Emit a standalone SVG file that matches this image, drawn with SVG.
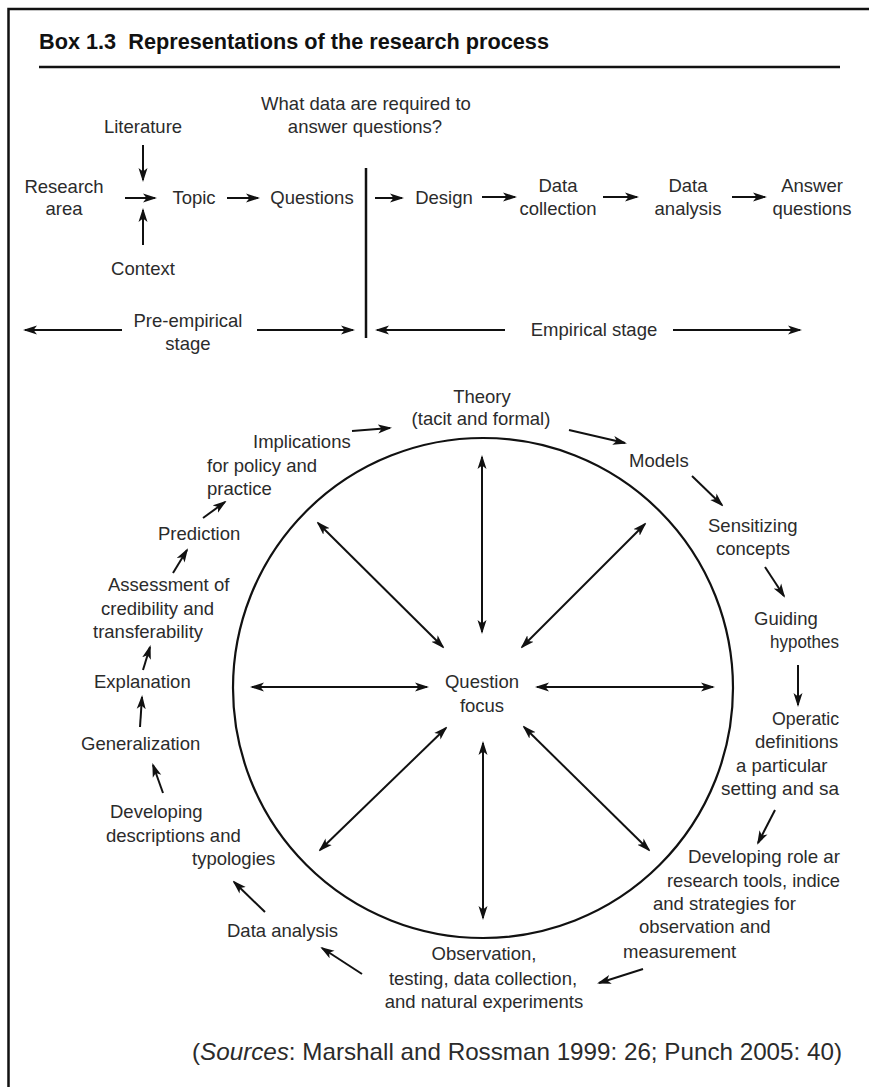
<svg xmlns="http://www.w3.org/2000/svg" width="869" height="1087" viewBox="0 0 869 1087">
<style>
  text { font-family: "Liberation Sans", Arial, sans-serif; font-size: 18.5px; fill: #2b2b2b; }
  .m { text-anchor: middle; }
  .title { font-weight: bold; font-size: 21.5px; fill: #111; }
  .src { font-size: 24px; }
  .ln { stroke: #111; stroke-width: 2; fill: none; }
  .a1 { marker-end: url(#ah); }
  .a2 { marker-start: url(#ah); marker-end: url(#ah); }
  .frame { stroke: #111; stroke-width: 2.5; fill: none; }
</style>
<defs>
  <marker id="ah" viewBox="0 0 14 10" refX="12" refY="5" markerWidth="14" markerHeight="10" markerUnits="userSpaceOnUse" orient="auto-start-reverse">
    <path d="M0,0.5 L14,5 L0,9.5 L3.5,5 z" fill="#111"/>
  </marker>
</defs>
<rect width="869" height="1087" fill="#fff"/>

<g id="frame">
  <path class="frame" d="M8.5,1087 V9 H869"/>
  <line x1="39" y1="67" x2="840" y2="67" stroke="#111" stroke-width="2.5"/>
  <text class="title" x="39" y="49" xml:space="preserve" textLength="510" lengthAdjust="spacingAndGlyphs">Box 1.3  Representations of the research process</text>
</g>

<g id="connectors">
  <!-- top flow -->
  <line class="ln a1" x1="143" y1="145" x2="143" y2="180"/>
  <line class="ln a1" x1="125" y1="198" x2="155" y2="198"/>
  <line class="ln a1" x1="143" y1="245" x2="143" y2="210"/>
  <line class="ln a1" x1="227" y1="198" x2="258" y2="198"/>
  <line class="ln a1" x1="375" y1="198" x2="402" y2="198"/>
  <line class="ln a1" x1="482" y1="197" x2="515" y2="197"/>
  <line class="ln a1" x1="603" y1="197" x2="637" y2="197"/>
  <line class="ln a1" x1="732" y1="197" x2="765" y2="197"/>
  <line x1="366" y1="168" x2="366" y2="338" stroke="#111" stroke-width="2.5"/>
  <line class="ln a1" x1="122" y1="330" x2="25" y2="330"/>
  <line class="ln a1" x1="257" y1="330" x2="353" y2="330"/>
  <line class="ln a1" x1="505" y1="330" x2="377" y2="330"/>
  <line class="ln a1" x1="673" y1="330" x2="800" y2="330"/>
  <!-- circle -->
  <circle cx="483" cy="688" r="250" fill="none" stroke="#111" stroke-width="2.2"/>
  <!-- spokes -->
  <line class="ln a2" x1="482" y1="632" x2="482" y2="457"/>
  <line class="ln a2" x1="483" y1="743" x2="483" y2="918"/>
  <line class="ln a2" x1="427" y1="687" x2="252" y2="687"/>
  <line class="ln a2" x1="537" y1="687" x2="713" y2="687"/>
  <line class="ln a2" x1="443" y1="647" x2="318" y2="523"/>
  <line class="ln a2" x1="522" y1="647" x2="645" y2="524"/>
  <line class="ln a2" x1="446" y1="728" x2="320" y2="850"/>
  <line class="ln a2" x1="524" y1="727" x2="649" y2="850"/>
  <!-- cycle -->
  <line class="ln a1" x1="352" y1="431" x2="390" y2="428"/>
  <line class="ln a1" x1="569" y1="430" x2="625" y2="443"/>
  <line class="ln a1" x1="692" y1="476" x2="722" y2="505"/>
  <line class="ln a1" x1="765" y1="567" x2="784" y2="596"/>
  <line class="ln a1" x1="798" y1="665" x2="798" y2="705"/>
  <line class="ln a1" x1="775" y1="810" x2="758" y2="843"/>
  <line class="ln a1" x1="643" y1="969" x2="599" y2="983"/>
  <line class="ln a1" x1="362" y1="974" x2="322" y2="948"/>
  <line class="ln a1" x1="265" y1="912" x2="234" y2="882"/>
  <line class="ln a1" x1="163" y1="793" x2="153" y2="765"/>
  <line class="ln a1" x1="140" y1="727" x2="142" y2="697"/>
  <line class="ln a1" x1="143" y1="670" x2="150" y2="647"/>
  <line class="ln a1" x1="173" y1="573" x2="187" y2="550"/>
  <line class="ln a1" x1="203" y1="518" x2="225" y2="502"/>
</g>

<!-- top flow nodes -->
<g id="what-data"><text class="m" x="366" y="110">What data are required to</text><text class="m" x="365" y="133">answer questions?</text></g>
<g id="literature"><text class="m" x="143" y="133">Literature</text></g>
<g id="research-area"><text class="m" x="64" y="193">Research</text><text class="m" x="64" y="215">area</text></g>
<g id="context"><text class="m" x="143" y="275">Context</text></g>
<g id="topic"><text class="m" x="194" y="204">Topic</text></g>
<g id="questions"><text class="m" x="312" y="204">Questions</text></g>
<g id="design"><text class="m" x="444" y="204">Design</text></g>
<g id="data-collection"><text class="m" x="558" y="192">Data</text><text class="m" x="558" y="215">collection</text></g>
<g id="data-analysis-top"><text class="m" x="688" y="192">Data</text><text class="m" x="688" y="215">analysis</text></g>
<g id="answer-questions"><text class="m" x="812" y="192">Answer</text><text class="m" x="812" y="215">questions</text></g>
<g id="pre-empirical"><text class="m" x="188" y="327">Pre-empirical</text><text class="m" x="188" y="350">stage</text></g>
<g id="empirical"><text class="m" x="594" y="336">Empirical stage</text></g>

<!-- circle nodes -->
<g id="question-focus"><text class="m" x="482" y="688">Question</text><text class="m" x="482" y="712">focus</text></g>
<g id="theory"><text class="m" x="482" y="403">Theory</text><text class="m" x="481" y="425">(tacit and formal)</text></g>
<g id="models"><text x="629" y="467">Models</text></g>
<g id="sensitizing"><text x="708" y="532">Sensitizing</text><text x="716" y="555">concepts</text></g>
<g id="guiding"><text x="754" y="625">Guiding</text><text x="770" y="648" textLength="69" lengthAdjust="spacingAndGlyphs">hypothes</text></g>
<g id="operational"><text x="772" y="725" textLength="67" lengthAdjust="spacingAndGlyphs">Operatic</text><text x="755" y="748">definitions</text><text x="736" y="772">a particular</text><text x="721" y="795" textLength="118" lengthAdjust="spacingAndGlyphs">setting and sa</text></g>
<g id="developing-role"><text x="688" y="863" textLength="152" lengthAdjust="spacingAndGlyphs">Developing role ar</text><text x="667" y="887" textLength="173" lengthAdjust="spacingAndGlyphs">research tools, indice</text><text x="653" y="910">and strategies for</text><text x="639" y="933">observation and</text><text x="623" y="958">measurement</text></g>
<g id="observation"><text class="m" x="484" y="960">Observation,</text><text class="m" x="483" y="985">testing, data collection,</text><text class="m" x="484" y="1008">and natural experiments</text></g>
<g id="data-analysis"><text x="227" y="937">Data analysis</text></g>
<g id="developing-descriptions"><text x="110" y="818">Developing</text><text x="106" y="842">descriptions and</text><text x="192" y="865">typologies</text></g>
<g id="generalization"><text x="81" y="750">Generalization</text></g>
<g id="explanation"><text x="94" y="688">Explanation</text></g>
<g id="assessment"><text x="108" y="591">Assessment of</text><text x="101" y="615">credibility and</text><text x="93" y="638">transferability</text></g>
<g id="prediction"><text x="158" y="540">Prediction</text></g>
<g id="implications"><text x="253" y="448">Implications</text><text x="207" y="472">for policy and</text><text x="207" y="495">practice</text></g>

<g id="sources"><text class="src" x="192" y="1060" textLength="650" lengthAdjust="spacingAndGlyphs">(<tspan font-style="italic">Sources</tspan>: Marshall and Rossman 1999: 26; Punch 2005: 40)</text></g>
</svg>
